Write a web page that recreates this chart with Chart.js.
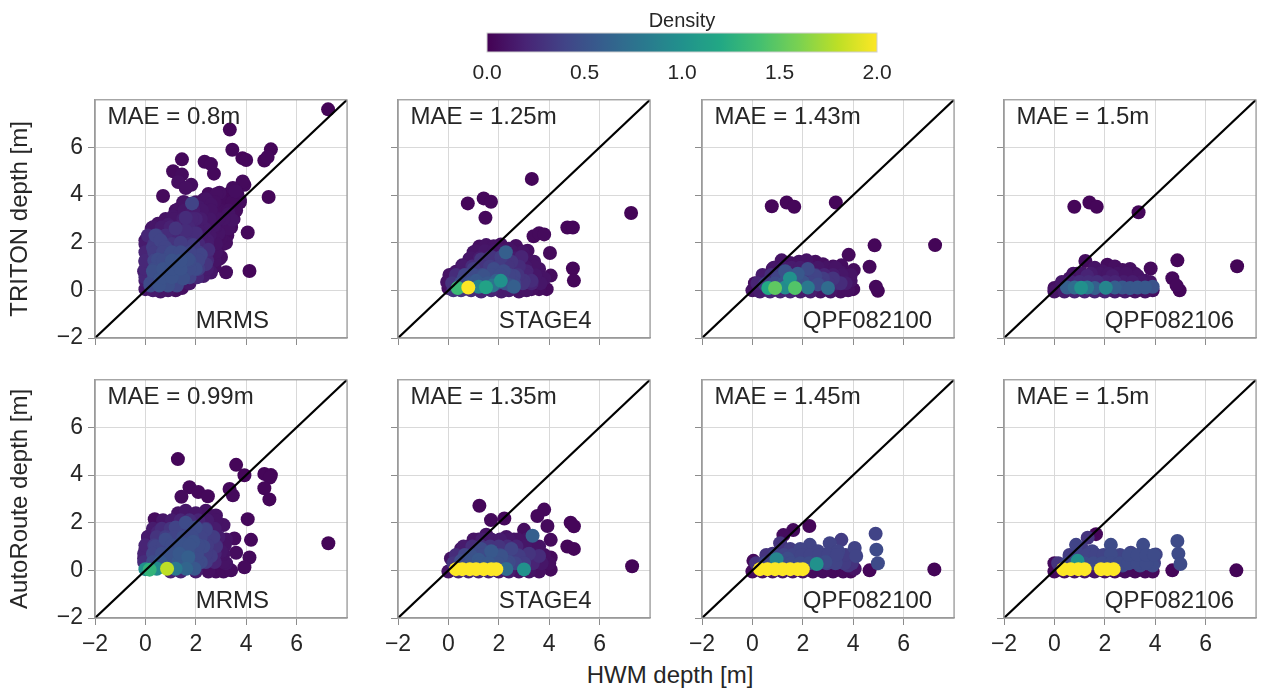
<!DOCTYPE html>
<html>
<head>
<meta charset="utf-8">
<script src="https://cdn.jsdelivr.net/npm/chart.js@4.4.0/dist/chart.umd.min.js"></script>
<style>
  html, body { margin: 0; padding: 0; background: #fff; overflow: hidden; }
  body { width: 1261px; height: 693px; position: relative; font-family: "Liberation Sans", Arial, sans-serif; }
  canvas { position: absolute; }
  #xtitle { position: absolute; left: 520px; width: 300px; top: 663px; text-align: center;
            font-size: 24px; line-height: 24px; color: #262626; }
</style>
</head>
<body>
<div id="xtitle">HWM depth [m]</div>
<script>
// panel labels
const models = ['TRITON', 'AutoRoute'];
const products = ['MRMS', 'STAGE4', 'QPF082100', 'QPF082106'];
const maeTriton = [0.8, 1.25, 1.43, 1.5];
const maeAutoRoute = [0.99, 1.35, 1.45, 1.5];
const axisTicks = [-2, 0, 2, 4, 6, 8];
const densityTicks = [0, 0.5, 1, 1.5, 2];

// points: [HWM depth, modelled depth, density]
const tritonMRMS = [
  [7.25,7.6,0.02],[3.35,6.75,0.03],[3.45,5.9,0.04],[4.98,5.92,0.03],[4.85,5.6,0.04],[4.72,5.45,0.03],
  [4.0,5.47,0.04],[3.85,5.55,0.03],[1.45,5.5,0.04],[2.35,5.4,0.05],[2.6,5.3,0.05],[2.72,4.9,0.04],
  [1.1,5.0,0.05],[1.45,4.86,0.06],[1.3,4.55,0.08],[1.6,4.3,0.08],[0.7,3.96,0.05],[4.89,3.92,0.03],
  [4.06,2.43,0.04],[4.13,0.81,0.03],[3.2,0.76,0.06],[2.74,1.0,0.08],[3.0,1.4,0.08],[3.93,4.43,0.05],
  [3.57,4.16,0.07],[2.94,4.1,0.08],[1.82,4.43,0.07],[3.75,3.8,0.06],[3.3,3.2,0.1],[3.45,2.95,0.1],
  [3.3,2.6,0.09],[2.9,2.4,0.1],[3.86,4.57,0.05],[3.47,4.3,0.06],[2.81,4.03,0.08],[2.41,3.82,0.1],
  [3.2,2.0,0.08],[2.68,1.39,0.1],[2.94,1.32,0.08],
  [0.0,2.1,0.12],[0.05,1.6,0.15],[0.0,1.2,0.15],[-0.05,0.8,0.15],[0.0,0.4,0.15],[0.0,0.05,0.12],
  [0.25,2.6,0.1],[0.5,2.8,0.1],[0.4,2.3,0.4],[0.9,2.75,0.15],[1.1,3.1,0.12],[1.3,3.4,0.1],
  [1.55,3.7,0.1],[1.85,3.65,0.4],[2.1,3.5,0.12],[2.3,3.8,0.08],[2.6,3.6,0.1],[2.0,3.0,0.2],
  [1.6,3.05,0.25],[1.2,2.6,0.3],
  [0.3,1.8,0.35],[0.6,2.1,0.4],[0.5,1.3,0.45],[0.3,0.8,0.48],[0.6,0.5,0.5],[0.9,0.9,0.5],
  [1.0,1.5,0.45],[1.3,1.0,0.5],[1.5,0.5,0.48],[1.7,1.3,0.48],[2.0,0.9,0.45],[2.2,1.5,0.4],
  [1.9,1.9,0.35],[1.4,2.0,0.35],[0.8,1.8,0.4],[2.4,1.1,0.3],[2.5,1.7,0.25],[0.2,0.3,0.45],[1.1,0.3,0.4],
  [0.3,0.0,0.15],[0.6,-0.05,0.12],[0.9,0.0,0.12],[1.2,0.0,0.08],[1.45,0.1,0.08],[1.75,0.3,0.12],
  [2.3,0.6,0.15],[2.6,0.75,0.12],[2.45,2.1,0.15],[2.75,1.9,0.1],[2.9,1.4,0.08],[2.7,2.7,0.12],
  [3.1,3.0,0.1],[3.0,2.2,0.08],[2.35,2.6,0.15],[2.0,2.4,0.25],[1.6,2.5,0.25],
  [0.2,0.2,0.45],[0.55,0.2,0.5],[0.9,0.2,0.48],[1.25,0.2,0.42],
  [0.0,0.55,0.22],[0.35,0.55,0.45],[0.7,0.55,0.5],[1.05,0.55,0.5],[1.4,0.55,0.45],[1.75,0.55,0.4],[2.05,0.55,0.22],
  [0.0,0.9,0.22],[0.35,0.9,0.45],[0.7,0.9,0.5],[1.05,0.9,0.5],[1.4,0.9,0.5],[1.75,0.9,0.45],[2.1,0.9,0.35],[2.45,0.9,0.15],
  [0.0,1.25,0.22],[0.35,1.25,0.4],[0.7,1.25,0.45],[1.05,1.25,0.5],[1.4,1.25,0.5],[1.75,1.25,0.45],[2.1,1.25,0.4],[2.45,1.25,0.22],[2.75,1.25,0.1],
  [0.0,1.6,0.2],[0.35,1.6,0.35],[0.7,1.6,0.4],[1.05,1.6,0.45],[1.4,1.6,0.45],[1.75,1.6,0.4],[2.1,1.6,0.35],[2.45,1.6,0.2],[2.8,1.6,0.1],
  [0.0,1.95,0.15],[0.35,1.95,0.32],[0.7,1.95,0.35],[1.05,1.95,0.3],[1.4,1.95,0.28],[1.75,1.95,0.28],[2.1,1.95,0.22],[2.45,1.95,0.15],[2.8,1.95,0.1],[3.1,1.95,0.06],
  [0.1,2.3,0.22],[0.45,2.3,0.3],[0.8,2.3,0.25],[1.15,2.3,0.22],[1.5,2.3,0.22],[1.85,2.3,0.18],[2.2,2.3,0.15],[2.55,2.3,0.12],[2.9,2.3,0.08],[3.25,2.3,0.06],
  [0.3,2.65,0.12],[0.65,2.65,0.15],[1.0,2.65,0.18],[1.35,2.65,0.18],[1.7,2.65,0.22],[2.05,2.65,0.15],[2.4,2.65,0.12],[2.75,2.65,0.1],[3.1,2.65,0.08],[3.4,2.65,0.06],
  [0.8,3.0,0.1],[1.15,3.0,0.12],[1.5,3.0,0.15],[1.85,3.0,0.2],[2.2,3.0,0.15],[2.55,3.0,0.12],[2.9,3.0,0.1],[3.25,3.0,0.08],[3.5,3.0,0.06],
  [1.2,3.35,0.08],[1.55,3.35,0.12],[1.9,3.35,0.15],[2.25,3.35,0.12],[2.6,3.35,0.1],[2.95,3.35,0.08],[3.3,3.35,0.08],[3.6,3.35,0.06],
  [1.5,3.7,0.08],[2.0,3.7,0.1],[2.4,3.7,0.08],[2.75,3.7,0.08],[3.1,3.7,0.06],[3.45,3.7,0.06],[3.75,3.7,0.05],
  [2.5,4.05,0.06],[2.9,4.05,0.05],[3.3,4.05,0.05],[3.65,4.05,0.05]
];
const tritonSTAGE4 = [
  [7.25,3.25,0.02],[3.31,4.68,0.03],[0.77,3.65,0.03],[1.4,3.86,0.04],[1.69,3.72,0.04],[1.47,3.05,0.04],
  [4.72,2.64,0.03],[4.94,2.64,0.03],[3.38,2.27,0.05],[3.6,2.4,0.05],[3.8,2.35,0.05],[4.03,1.57,0.05],
  [4.94,0.92,0.03],[4.98,0.41,0.03],[4.06,0.62,0.06],
  [1.23,1.84,0.08],[1.5,1.9,0.1],[1.8,1.85,0.1],[2.08,1.93,0.08],[2.4,1.75,0.1],[2.68,1.86,0.08],
  [2.95,1.6,0.1],[3.14,1.66,0.08],[3.4,1.2,0.1],[3.6,0.9,0.1],[3.8,0.5,0.1],[3.9,0.05,0.05],
  [3.6,0.05,0.06],[3.3,0.05,0.08],
  [0.04,0.65,0.1],[0.3,0.78,0.12],[0.55,1.05,0.12],[0.83,1.32,0.12],[1.0,1.6,0.1],[0.0,0.1,0.08],[-0.05,0.35,0.1],
  [0.6,0.5,0.4],[1.0,0.9,0.35],[1.3,1.3,0.3],[1.7,1.4,0.3],[2.1,1.4,0.35],[2.28,1.6,0.6],
  [2.5,1.2,0.3],[2.8,1.0,0.25],[3.1,0.8,0.2],[3.0,0.4,0.3],[2.6,0.6,0.4],[1.8,0.9,0.45],
  [1.4,0.6,0.5],[2.2,0.8,0.45],[1.9,0.4,0.6],[1.1,0.4,0.55],[2.5,0.2,0.5],[3.3,0.4,0.25],[2.9,1.4,0.2],
  [0.2,0.0,0.3],[0.5,0.0,0.3],[0.9,0.0,0.25],[1.3,-0.05,0.2],[1.7,0.0,0.2],[2.1,-0.05,0.15],
  [2.4,0.0,0.15],[2.8,-0.05,0.1],[3.1,0.0,0.1],
  [0.37,0.1,1.35],[0.79,0.12,2.0],[1.49,0.13,1.15],[2.08,0.4,1.0],[1.2,0.15,0.9],[1.75,0.2,0.75],[2.6,0.15,0.6],
  [0.15,0.3,0.3],[0.5,0.3,0.45],[0.85,0.3,0.5],[1.2,0.3,0.55],[1.55,0.3,0.55],[1.9,0.3,0.5],[2.25,0.3,0.5],[2.6,0.3,0.4],[2.95,0.3,0.3],[3.3,0.3,0.2],[3.65,0.3,0.12],
  [0.3,0.65,0.25],[0.65,0.65,0.4],[1.0,0.65,0.45],[1.35,0.65,0.45],[1.7,0.65,0.45],[2.05,0.65,0.45],[2.4,0.65,0.4],[2.75,0.65,0.3],[3.1,0.65,0.2],[3.45,0.65,0.12],
  [0.6,1.0,0.15],[0.95,1.0,0.25],[1.3,1.0,0.3],[1.65,1.0,0.35],[2.0,1.0,0.35],[2.35,1.0,0.3],[2.7,1.0,0.2],[3.05,1.0,0.12],[3.4,1.0,0.1],
  [0.9,1.35,0.12],[1.25,1.35,0.15],[1.6,1.35,0.2],[1.95,1.35,0.2],[2.3,1.35,0.2],[2.65,1.35,0.15],[3.0,1.35,0.1],
  [1.1,1.65,0.1],[1.45,1.65,0.12],[1.8,1.65,0.12],[2.15,1.65,0.12],[2.5,1.65,0.1],[2.85,1.65,0.08]
];
const tritonQPF082100 = [
  [7.25,1.9,0.02],[0.77,3.53,0.03],[1.36,3.69,0.03],[1.66,3.51,0.03],[3.31,3.69,0.03],[4.85,1.89,0.03],
  [4.65,0.99,0.04],[4.9,0.15,0.04],[4.98,-0.02,0.03],[3.82,1.49,0.05],[4.02,0.85,0.06],[3.53,1.05,0.07],
  [1.16,1.26,0.1],[1.5,1.15,0.1],[1.85,1.2,0.1],[2.15,1.26,0.1],[2.5,1.2,0.08],[2.8,1.1,0.08],
  [3.2,1.0,0.08],[3.5,0.75,0.1],[3.9,0.4,0.1],[4.0,0.05,0.05],[0.5,0.6,0.1],[0.8,0.9,0.1],[0.1,0.3,0.08],
  [0.5,0.25,0.35],[1.0,0.5,0.4],[1.3,0.8,0.5],[1.49,0.5,1.0],[1.8,0.7,0.55],[2.2,0.9,0.45],
  [2.5,0.6,0.4],[2.8,0.5,0.35],[3.2,0.5,0.3],[3.5,0.3,0.25],[2.0,0.35,0.5],[2.6,0.25,0.45],[3.0,0.1,0.7],
  [0.0,0.0,0.1],[0.3,-0.05,0.15],[0.7,-0.05,0.2],[1.1,-0.05,0.2],[1.5,-0.05,0.2],[1.9,-0.05,0.15],
  [2.3,-0.05,0.15],[2.7,-0.05,0.1],[3.1,-0.05,0.1],[3.5,-0.05,0.08],[3.8,0.0,0.08],
  [0.63,0.1,1.2],[0.9,0.1,1.5],[1.69,0.1,1.45],[1.3,0.12,0.95],[2.2,0.12,0.8],
  [0.2,0.3,0.2],[0.55,0.3,0.35],[0.9,0.3,0.45],[1.25,0.3,0.5],[1.6,0.3,0.5],[1.95,0.3,0.45],[2.3,0.3,0.4],[2.65,0.3,0.35],[3.0,0.3,0.3],[3.35,0.3,0.2],[3.7,0.3,0.15],
  [0.4,0.65,0.15],[0.75,0.65,0.25],[1.1,0.65,0.35],[1.45,0.65,0.4],[1.8,0.65,0.35],[2.15,0.65,0.3],[2.5,0.65,0.25],[2.85,0.65,0.2],[3.2,0.65,0.15],[3.55,0.65,0.12],[3.9,0.65,0.1],
  [0.85,0.95,0.12],[1.2,0.95,0.15],[1.55,0.95,0.15],[1.9,0.95,0.15],[2.25,0.95,0.12],[2.6,0.95,0.12],[2.95,0.95,0.1],[3.3,0.95,0.1]
];
const tritonQPF082106 = [
  [7.25,1.01,0.02],[0.79,3.51,0.03],[1.39,3.69,0.03],[1.68,3.51,0.03],[3.34,3.28,0.03],[4.88,1.26,0.03],
  [4.68,0.51,0.04],[4.97,0.0,0.03],[4.85,0.2,0.04],[3.82,0.92,0.05],[1.23,1.23,0.06],[2.1,1.08,0.06],
  [2.4,1.0,0.08],[2.7,0.85,0.08],[3.0,0.9,0.08],[1.6,0.95,0.1],[1.9,0.8,0.1],[0.6,0.5,0.1],
  [0.9,0.7,0.1],[1.3,0.6,0.2],[2.3,0.6,0.15],[3.3,0.6,0.1],[3.6,0.4,0.1],[0.3,0.3,0.1],[0.0,0.1,0.08],
  [0.0,-0.05,0.1],[0.4,-0.05,0.15],[0.8,-0.05,0.2],[1.2,-0.05,0.2],[1.6,-0.05,0.2],[2.0,-0.05,0.2],
  [2.4,-0.05,0.15],[2.8,-0.05,0.15],[3.2,-0.05,0.1],[3.6,-0.05,0.1],[3.9,0.0,0.08],
  [0.5,0.12,0.6],[0.8,0.12,0.7],[1.06,0.11,1.0],[1.3,0.12,0.8],[1.6,0.1,0.6],[2.04,0.11,0.9],
  [2.4,0.12,0.6],[2.7,0.12,0.55],[3.0,0.1,0.55],[3.3,0.12,0.55],[3.6,0.12,0.55],[3.9,0.15,0.5],
  [0.3,0.35,0.12],[0.65,0.35,0.2],[1.0,0.35,0.25],[1.35,0.35,0.25],[1.7,0.35,0.25],[2.05,0.35,0.2],[2.4,0.35,0.2],[2.75,0.35,0.15],[3.1,0.35,0.15],[3.45,0.35,0.12],[3.8,0.35,0.1],
  [0.75,0.7,0.1],[1.1,0.7,0.12],[1.45,0.7,0.15],[1.8,0.7,0.12],[2.15,0.7,0.12],[2.5,0.7,0.1],[2.85,0.7,0.1],[3.2,0.7,0.08]
];
const autoMRMS = [
  [7.26,1.14,0.02],[1.29,4.67,0.03],[3.6,4.43,0.03],[3.93,3.99,0.03],[4.72,4.05,0.03],[4.98,4.0,0.03],
  [4.94,3.9,0.03],[4.72,3.45,0.03],[4.92,2.98,0.03],[1.75,3.49,0.04],[2.1,3.29,0.04],[2.48,3.11,0.04],
  [1.43,3.09,0.05],[3.34,3.42,0.04],[3.47,3.15,0.05],[4.06,2.15,0.04],[4.19,1.28,0.04],[4.13,0.54,0.05],
  [3.93,0.13,0.05],[3.53,1.34,0.06],[3.6,0.74,0.06],[0.37,2.15,0.06],
  [0.9,2.0,0.1],[1.3,2.4,0.1],[1.6,2.5,0.12],[2.0,2.4,0.12],[2.4,2.5,0.1],[2.8,2.3,0.1],
  [3.1,1.9,0.1],[3.2,1.3,0.1],[3.0,0.8,0.12],[3.2,0.3,0.1],[0.1,1.4,0.1],[0.0,0.9,0.15],
  [-0.05,0.5,0.15],[0.5,1.6,0.2],
  [0.4,1.0,0.4],[0.8,1.3,0.45],[1.2,1.8,0.4],[1.6,2.0,0.45],[2.0,1.8,0.45],[2.4,1.7,0.4],
  [2.7,1.4,0.35],[1.0,0.7,0.5],[1.5,1.1,0.5],[1.9,1.2,0.5],[2.3,1.0,0.45],[2.6,0.6,0.35],
  [1.7,0.55,0.6],[1.3,0.35,0.55],[0.6,0.35,0.55],[2.2,0.35,0.45],[2.8,1.0,0.3],
  [2.5,-0.05,0.08],[2.8,-0.05,0.06],[3.1,-0.05,0.06],[3.4,0.0,0.06],[1.0,-0.05,0.2],[1.4,-0.05,0.2],[2.0,-0.05,0.15],
  [0.0,0.05,1.0],[0.17,0.03,1.3],[0.45,0.07,0.95],[0.86,0.07,1.8],[1.2,0.07,0.8],[1.62,0.07,0.65],[1.95,0.07,0.55],
  [-0.05,0.35,0.25],[0.3,0.35,0.45],[0.65,0.35,0.5],[1.0,0.35,0.5],[1.35,0.35,0.5],[1.7,0.35,0.5],[2.05,0.35,0.45],[2.4,0.35,0.35],[2.75,0.35,0.2],[3.1,0.35,0.1],
  [-0.05,0.7,0.2],[0.3,0.7,0.4],[0.65,0.7,0.45],[1.0,0.7,0.5],[1.35,0.7,0.55],[1.7,0.7,0.5],[2.05,0.7,0.45],[2.4,0.7,0.35],[2.75,0.7,0.2],[3.1,0.7,0.1],
  [0.0,1.05,0.2],[0.35,1.05,0.35],[0.7,1.05,0.4],[1.05,1.05,0.45],[1.4,1.05,0.5],[1.75,1.05,0.5],[2.1,1.05,0.45],[2.45,1.05,0.35],[2.8,1.05,0.2],[3.15,1.05,0.1],
  [0.1,1.4,0.15],[0.45,1.4,0.3],[0.8,1.4,0.35],[1.15,1.4,0.4],[1.5,1.4,0.45],[1.85,1.4,0.45],[2.2,1.4,0.4],[2.55,1.4,0.3],[2.9,1.4,0.15],
  [0.3,1.75,0.15],[0.65,1.75,0.25],[1.0,1.75,0.3],[1.35,1.75,0.35],[1.7,1.75,0.35],[2.05,1.75,0.35],[2.4,1.75,0.3],[2.75,1.75,0.15],
  [0.7,2.1,0.12],[1.05,2.1,0.15],[1.4,2.1,0.2],[1.75,2.1,0.25],[2.1,2.1,0.2],[2.45,2.1,0.15],[2.8,2.1,0.1]
];
const autoSTAGE4 = [
  [7.29,0.17,0.02],[1.23,2.71,0.03],[2.22,2.18,0.04],[3.8,2.55,0.04],[3.53,2.28,0.04],[3.93,1.86,0.05],
  [4.06,1.28,0.05],[4.85,2.0,0.03],[4.98,1.85,0.03],[4.72,1.0,0.03],[4.98,0.9,0.03],[1.69,2.11,0.05],
  [4.06,0.54,0.05],[4.06,0.03,0.05],[3.0,1.7,0.06],
  [0.5,0.9,0.1],[0.8,1.0,0.1],[1.2,1.3,0.1],[1.5,1.5,0.1],[1.9,1.2,0.1],[2.3,1.4,0.1],
  [2.6,1.3,0.1],[3.1,1.3,0.1],[3.6,1.0,0.1],[3.8,0.5,0.08],[0.1,0.5,0.1],[3.5,0.3,0.08],
  [0.5,0.4,0.45],[0.9,0.6,0.5],[1.3,0.9,0.45],[1.7,0.8,0.55],[2.1,0.6,0.5],[2.5,0.9,0.4],
  [2.8,0.6,0.35],[3.2,0.7,0.3],[1.2,0.45,0.55],[2.4,0.35,0.45],[3.34,1.45,0.6],[3.0,0.3,0.35],[3.6,0.6,0.25],
  [0.0,-0.05,0.1],[0.4,-0.05,0.2],[0.8,-0.05,0.2],[1.2,-0.05,0.2],[1.6,-0.05,0.2],[2.0,-0.05,0.15],
  [2.4,-0.05,0.15],[2.8,-0.05,0.1],[3.2,-0.05,0.1],[3.6,-0.05,0.08],
  [0.3,0.05,2.0],[0.55,0.05,2.0],[0.85,0.05,2.0],[1.1,0.05,2.0],[1.4,0.05,2.0],[1.7,0.05,2.0],
  [1.9,0.05,2.0],[3.0,0.04,1.0],[2.3,0.06,0.7],
  [0.2,0.3,0.3],[0.55,0.3,0.45],[0.9,0.3,0.5],[1.25,0.3,0.55],[1.6,0.3,0.55],[1.95,0.3,0.5],[2.3,0.3,0.45],[2.65,0.3,0.4],[3.0,0.3,0.3],[3.35,0.3,0.2],[3.7,0.3,0.12],[4.0,0.3,0.08],
  [0.3,0.65,0.25],[0.65,0.65,0.4],[1.0,0.65,0.45],[1.35,0.65,0.45],[1.7,0.65,0.45],[2.05,0.65,0.4],[2.4,0.65,0.35],[2.75,0.65,0.3],[3.1,0.65,0.2],[3.45,0.65,0.12],[3.8,0.65,0.08],
  [0.6,1.0,0.15],[0.95,1.0,0.25],[1.3,1.0,0.3],[1.65,1.0,0.3],[2.0,1.0,0.3],[2.35,1.0,0.25],[2.7,1.0,0.2],[3.05,1.0,0.12],[3.4,1.0,0.1],
  [1.0,1.3,0.1],[1.35,1.3,0.15],[1.7,1.3,0.15],[2.05,1.3,0.15],[2.4,1.3,0.12],[2.75,1.3,0.1]
];
const autoQPF082100 = [
  [7.22,0.04,0.02],[2.26,1.86,0.03],[1.62,1.69,0.05],[1.23,1.48,0.06],[3.53,1.28,0.35],[3.07,1.14,0.4],
  [4.89,1.54,0.4],[4.92,0.87,0.45],[4.98,0.3,0.45],[4.65,0.0,0.03],[4.06,0.94,0.4],[4.12,0.6,0.4],
  [4.06,0.07,0.1],[0.04,0.4,0.05],
  [1.1,1.14,0.3],[2.28,1.07,0.4],[1.9,0.9,0.4],[1.5,0.9,0.35],[0.8,0.7,0.3],[2.6,0.8,0.4],
  [3.0,0.7,0.4],[3.4,0.8,0.4],[3.7,0.5,0.35],[3.3,0.35,0.4],[2.9,0.35,0.45],[2.0,0.5,0.4],
  [1.4,0.5,0.45],[0.5,0.3,0.3],[3.8,0.2,0.3],
  [0.0,-0.05,0.05],[0.4,-0.05,0.08],[0.8,-0.05,0.1],[1.2,-0.05,0.1],[1.6,-0.05,0.1],[2.0,-0.05,0.08],
  [2.4,-0.05,0.06],[2.8,-0.05,0.06],[3.2,-0.05,0.05],[3.6,-0.05,0.05],[3.9,-0.05,0.05],
  [0.96,0.47,0.9],[2.55,0.27,1.0],[0.3,0.05,2.0],[0.6,0.05,2.0],[0.9,0.05,2.0],[1.2,0.05,2.0],
  [1.5,0.05,2.0],[1.8,0.05,2.0],[2.0,0.05,2.0],
  [0.15,0.3,0.3],[0.5,0.3,0.4],[0.85,0.3,0.45],[1.2,0.3,0.45],[1.55,0.3,0.45],[1.9,0.3,0.45],[2.25,0.3,0.45],[2.6,0.3,0.45],[2.95,0.3,0.4],[3.3,0.3,0.4],[3.65,0.3,0.35],[3.95,0.3,0.3],
  [0.55,0.65,0.3],[0.9,0.65,0.4],[1.25,0.65,0.4],[1.6,0.65,0.4],[1.95,0.65,0.4],[2.3,0.65,0.4],[2.65,0.65,0.4],[3.0,0.65,0.4],[3.35,0.65,0.4],[3.7,0.65,0.35],[4.05,0.65,0.3]
];
const autoQPF082106 = [
  [7.22,0.0,0.02],[1.65,1.52,0.03],[1.32,1.37,0.3],[0.86,1.07,0.4],[2.24,1.07,0.45],[2.24,0.67,0.45],
  [3.52,1.07,0.45],[3.03,0.74,0.4],[4.88,1.23,0.45],[4.92,0.7,0.45],[5.0,0.27,0.45],[4.68,0.0,0.03],
  [4.02,0.67,0.4],[0.0,0.3,0.05],
  [1.1,0.9,0.35],[1.5,0.8,0.4],[1.9,0.6,0.4],[0.6,0.5,0.3],[2.6,0.5,0.4],[3.0,0.4,0.45],
  [3.3,0.6,0.4],[3.7,0.4,0.4],[3.9,0.2,0.45],[2.7,0.2,0.45],[3.4,0.2,0.45],[1.5,0.3,0.4],
  [0.0,-0.05,0.05],[0.4,-0.05,0.08],[0.8,-0.05,0.1],[1.2,-0.05,0.1],[1.6,-0.05,0.1],[2.0,-0.05,0.08],
  [2.4,-0.05,0.06],[2.8,-0.05,0.06],[3.2,-0.05,0.05],[3.6,-0.05,0.05],[3.9,-0.05,0.05],
  [0.92,0.4,1.0],[0.35,0.05,2.0],[0.65,0.05,2.0],[0.95,0.05,2.0],[1.2,0.05,2.0],[1.85,0.05,2.0],
  [2.1,0.05,2.0],[2.35,0.05,2.0],
  [0.15,0.3,0.3],[0.5,0.3,0.4],[0.85,0.3,0.45],[1.2,0.3,0.45],[1.55,0.3,0.45],[1.9,0.3,0.45],[2.25,0.3,0.45],[2.6,0.3,0.45],[2.95,0.3,0.45],[3.3,0.3,0.45],[3.65,0.3,0.45],[3.95,0.3,0.4],
  [0.6,0.65,0.35],[0.95,0.65,0.4],[1.3,0.65,0.4],[1.65,0.65,0.4],[1.95,0.65,0.4],[2.6,0.65,0.4],[2.95,0.65,0.45],[3.3,0.65,0.45],[3.65,0.65,0.45],[3.95,0.65,0.45]
];

const panelPoints = [
  [tritonMRMS, tritonSTAGE4, tritonQPF082100, tritonQPF082106],
  [autoMRMS, autoSTAGE4, autoQPF082100, autoQPF082106]
];
const maeByRow = [maeTriton, maeAutoRoute];

// layout
const panelLeft = [95, 398, 702, 1004];
const panelTop = [91, 371];
const panelW = 253, panelH = 247;
const FONT = '"Liberation Sans", Arial, sans-serif';
const TXT = '#262626';

const viridisStops = ['#440154','#482475','#414487','#355f8d','#2a788e','#21918c',
                      '#22a884','#44bf70','#7ad151','#bddf26','#fde725'];
function hexRgb(h) { return [1, 3, 5].map(i => parseInt(h.substr(i, 2), 16)); }
function viridis(t) {
  t = Math.min(1, Math.max(0, t));
  const p = t * 10, i = Math.min(9, Math.floor(p)), f = p - i;
  const a = hexRgb(viridisStops[i]), b = hexRgb(viridisStops[i + 1]);
  const c = a.map((v, k) => Math.round(v + (b[k] - v) * f));
  return `rgb(${c[0]},${c[1]},${c[2]})`;
}

function fmtTick(v) {
  if (v === 8) return '';
  return v < 0 ? '\u2212' + Math.abs(v) : String(v);
}

const panelDecor = {
  id: 'panelDecor',
  afterDatasetsDraw(chart, args, opts) {
    const { ctx, chartArea: a, scales: { x, y } } = chart;
    ctx.save();
    ctx.strokeStyle = '#9a9a9a';
    ctx.lineWidth = 1.2;
    ctx.strokeRect(a.left, a.top, a.right - a.left, a.bottom - a.top);
    ctx.fillStyle = TXT;
    ctx.font = '24px ' + FONT;
    ctx.textAlign = 'left';
    ctx.textBaseline = 'alphabetic';
    ctx.fillText(opts.mae, x.getPixelForValue(-1.5), y.getPixelForValue(7.0));
    ctx.fillText(opts.name, x.getPixelForValue(2), y.getPixelForValue(-1.57));
    ctx.restore();
  }
};

function makePanel(row, col) {
  const yW = col === 0 ? 95 : 70;
  const xH = row === 1 ? 50 : 30;
  const w = yW + panelW + 6, h = 10 + panelH + xH;
  const cv = document.createElement('canvas');
  cv.width = w; cv.height = h;
  cv.style.left = (panelLeft[col] - yW) + 'px';
  cv.style.top = (panelTop[row] - 10) + 'px';
  cv.style.width = w + 'px'; cv.style.height = h + 'px';
  document.body.appendChild(cv);

  const pts = panelPoints[row][col].slice().sort((a, b) => a[2] - b[2]);
  const showX = row === 1, showY = col === 0;

  const gridOpts = {
    color: '#d9d9d9', lineWidth: 1, drawTicks: true, tickLength: 7,
    tickColor: c => (c.tick && c.tick.value === 8) ? 'rgba(0,0,0,0)' : '#8c8c8c'
  };

  new Chart(cv, {
    type: 'scatter',
    data: {
      datasets: [
        {
          data: [{ x: -2, y: -2 }, { x: 8, y: 8 }],
          showLine: true, borderColor: '#000', borderWidth: 2.2, pointRadius: 0, order: 0
        },
        {
          data: pts.map(p => ({ x: p[0], y: p[1] })),
          backgroundColor: pts.map(p => viridis(p[2] / 2)),
          borderWidth: 0, pointRadius: 7, pointHoverRadius: 7, order: 1
        }
      ]
    },
    options: {
      responsive: false,
      animation: false,
      layout: { padding: { left: 0, top: 10, right: 6, bottom: 0 } },
      plugins: {
        legend: { display: false },
        tooltip: { enabled: false },
        panelDecor: { mae: `MAE = ${maeByRow[row][col]}m`, name: products[col] }
      },
      scales: {
        x: {
          type: 'linear', min: -2, max: 8,
          afterBuildTicks: s => { s.ticks = axisTicks.map(v => ({ value: v })); },
          afterFit: s => { s.height = xH; },
          ticks: {
            autoSkip: false, maxRotation: 0, padding: 6, color: TXT,
            font: { size: 23, family: FONT },
            callback: v => showX ? fmtTick(v) : ''
          },
          grid: gridOpts,
          border: { color: '#9a9a9a', width: 1.2 }
        },
        y: {
          type: 'linear', min: -2, max: 8,
          afterBuildTicks: s => { s.ticks = axisTicks.map(v => ({ value: v })); },
          afterFit: s => { s.width = yW; },
          ticks: {
            autoSkip: false, padding: 5, color: TXT,
            font: { size: 23, family: FONT },
            callback: v => showY ? fmtTick(v) : ''
          },
          title: {
            display: showY, text: models[row] + ' depth [m]', color: TXT,
            font: { size: 24, family: FONT }, padding: { top: 6, bottom: 0 }
          },
          grid: gridOpts,
          border: { color: '#9a9a9a', width: 1.2 }
        }
      }
    },
    plugins: [panelDecor]
  });
}

for (let r = 0; r < 2; r++) for (let c = 0; c < 4; c++) makePanel(r, c);

// colorbar
const colorbarFill = {
  id: 'colorbarFill',
  beforeDatasetsDraw(chart) {
    const { ctx, chartArea: a, scales: { x } } = chart;
    const g = ctx.createLinearGradient(x.getPixelForValue(0), 0, x.getPixelForValue(2), 0);
    for (let i = 0; i <= 40; i++) g.addColorStop(i / 40, viridis(i / 40));
    ctx.save();
    ctx.fillStyle = g;
    ctx.fillRect(a.left, a.top, a.right - a.left, a.bottom - a.top);
    ctx.strokeStyle = '#cfcfcf';
    ctx.lineWidth = 1;
    ctx.strokeRect(a.left, a.top, a.right - a.left, a.bottom - a.top);
    ctx.fillStyle = TXT;
    ctx.font = '20px ' + FONT;
    ctx.textAlign = 'center';
    ctx.textBaseline = 'alphabetic';
    ctx.fillText('Density', (a.left + a.right) / 2, a.top - 6);
    ctx.restore();
  }
};
(function () {
  const cv = document.createElement('canvas');
  cv.width = 470; cv.height = 85;
  cv.style.left = '447px'; cv.style.top = '0px';
  cv.style.width = '470px'; cv.style.height = '85px';
  document.body.appendChild(cv);
  new Chart(cv, {
    type: 'scatter',
    data: { datasets: [{ data: [] }] },
    options: {
      responsive: false,
      animation: false,
      layout: { padding: { left: 40, right: 40, top: 33, bottom: 0 } },
      plugins: { legend: { display: false }, tooltip: { enabled: false } },
      scales: {
        x: {
          type: 'linear', min: 0, max: 2,
          afterBuildTicks: s => { s.ticks = densityTicks.map(v => ({ value: v })); },
          afterFit: s => { s.height = 33; },
          ticks: { autoSkip: false, maxRotation: 0, padding: 9, color: TXT,
                   font: { size: 21, family: FONT }, callback: v => v.toFixed(1) },
          grid: { display: false, drawTicks: false },
          border: { display: false }
        },
        y: { display: false, min: 0, max: 1 }
      }
    },
    plugins: [colorbarFill]
  });
})();
</script>
</body>
</html>
